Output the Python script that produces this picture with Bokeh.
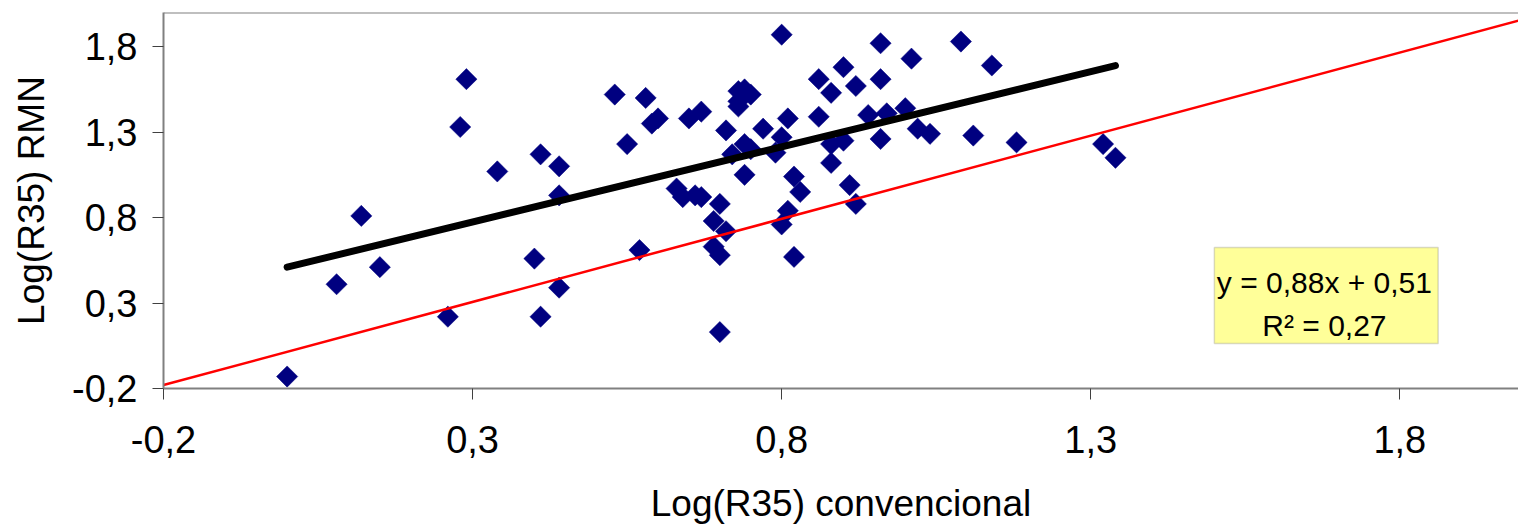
from math import pi
from bokeh.plotting import figure
from bokeh.models import (Range1d, FixedTicker, CustomJSTickFormatter, Span,
                          BoxAnnotation, Label, ColumnDataSource)
from bokeh.embed import file_html
from bokeh.resources import INLINE

# ---- data ----
log_r35_conv = [
    0.00, 0.08, 0.12, 0.15, 0.26, 0.28, 0.29, 0.34, 0.41, 0.44,
    0.44, 0.40, 0.44, 0.41, 0.53, 0.55, 0.58, 0.59, 0.60, 0.57,
    0.65, 0.67, 0.71, 0.63, 0.64, 0.66, 0.67, 0.70, 0.69, 0.71,
    0.69, 0.70, 0.70, 0.72, 0.74, 0.74, 0.75, 0.77, 0.80, 0.79,
    0.81, 0.73, 0.74, 0.75, 0.73, 0.73, 0.80, 0.82, 0.83, 0.81,
    0.80, 0.82, 0.86, 0.90, 0.88, 0.92, 0.96, 0.96, 1.01, 1.09,
    1.14, 0.86, 0.94, 0.97, 1.00, 0.96, 0.88, 0.91, 0.92, 0.90,
    0.88, 1.02, 1.04, 1.11, 1.18, 1.32, 1.34,
]
log_r35_rmn = [
    -0.13, 0.41, 0.81, 0.51, 0.22, 1.33, 1.61, 1.07, 1.17, 1.10,
    0.93, 0.56, 0.39, 0.22, 1.52, 1.23, 1.50, 1.35, 1.38, 0.61,
    1.38, 1.42, 1.31, 0.97, 0.92, 0.93, 0.92, 0.88, 0.78, 0.72,
    0.63, 0.58, 0.13, 1.17, 1.05, 1.23, 1.20, 1.32, 1.27, 1.18,
    1.38, 1.54, 1.55, 1.52, 1.45, 1.48, 1.87, 1.04, 0.95, 0.84,
    0.76, 0.57, 1.61, 1.68, 1.53, 1.57, 1.82, 1.61, 1.73, 1.83,
    1.69, 1.39, 1.40, 1.41, 1.44, 1.26, 1.12, 0.99, 0.88, 1.25,
    1.23, 1.32, 1.29, 1.28, 1.24, 1.23, 1.15,
]
trend_slope = 0.88
trend_intercept = 0.51
ref_x = [-0.2, 2.0]          # 1:1 reference line (red)
ref_y = [-0.18, 1.96]
x_ticks = [-0.2, 0.3, 0.8, 1.3, 1.8]
y_ticks = [-0.2, 0.3, 0.8, 1.3, 1.8]
eq_text = "y = 0,88x + 0,51"
r2_text = "R\u00b2 = 0,27"
x_title = "Log(R35) convencional"
y_title = "Log(R35) RMN"

trend_x = [min(log_r35_conv), max(log_r35_conv)]
trend_y = [trend_slope * v + trend_intercept for v in trend_x]

FONT = "Liberation Sans"
GRAY = "#808080"

p = figure(width=1518, height=527, output_backend="svg", toolbar_location=None,
           x_range=Range1d(-0.2, 1.992), y_range=Range1d(-0.2, 2.0),
           min_border_left=163, min_border_right=0, min_border_top=12,
           min_border_bottom=139)
p.outline_line_color = None
p.xgrid.visible = False
p.ygrid.visible = False
p.background_fill_color = "white"
p.border_fill_color = "white"

fmt = CustomJSTickFormatter(code="return tick.toFixed(1).replace('.', ',');")
for ax, ticks, title in ((p.xaxis[0], x_ticks, x_title), (p.yaxis[0], y_ticks, y_title)):
    ax.ticker = FixedTicker(ticks=ticks)
    ax.formatter = fmt
    ax.axis_line_color = GRAY
    ax.axis_line_width = 2
    ax.major_tick_line_color = "#404040"
    ax.major_tick_line_width = 1
    ax.major_tick_in = 0
    ax.major_tick_out = 11
    ax.minor_tick_line_color = None
    ax.major_label_text_font = FONT
    ax.major_label_text_font_size = "38px"
    ax.major_label_text_color = "black"
    ax.axis_label = title
    ax.axis_label_text_font = FONT
    ax.axis_label_text_font_size = "37px"
    ax.axis_label_text_font_style = "normal"
    ax.axis_label_text_color = "black"

p.xaxis.major_label_standoff = 26
p.xaxis.axis_label_standoff = 27
p.yaxis.major_label_standoff = 15
p.yaxis.axis_label_standoff = 17

# top border of the plot area
p.add_layout(Span(location=2.0, dimension="width", line_color=GRAY, line_width=2))

src = ColumnDataSource(dict(x=log_r35_conv, y=log_r35_rmn))
p.scatter("x", "y", source=src, marker="square", angle=pi / 4, size=15,
          fill_color="#000080", line_color="#000080", line_width=0.5)

p.line(ref_x, ref_y, line_color="#FF0000", line_width=2.5)
p.line(trend_x, trend_y, line_color="black", line_width=7, line_cap="round")

# equation box
p.add_layout(BoxAnnotation(left=1.50, right=1.862, bottom=0.064, top=0.625,
                           fill_color="#FFFF99", fill_alpha=1.0,
                           line_color=GRAY, line_width=1.5, level="annotation"))
p.add_layout(Label(x=1.678, y=0.42, text=eq_text, text_align="center",
                   text_baseline="alphabetic", text_font=FONT,
                   text_font_size="30px", text_color="black"))
p.add_layout(Label(x=1.678, y=0.17, text=r2_text, text_align="center",
                   text_baseline="alphabetic", text_font=FONT,
                   text_font_size="30px", text_color="black"))

open("out.html", "w").write(file_html(p, INLINE))
